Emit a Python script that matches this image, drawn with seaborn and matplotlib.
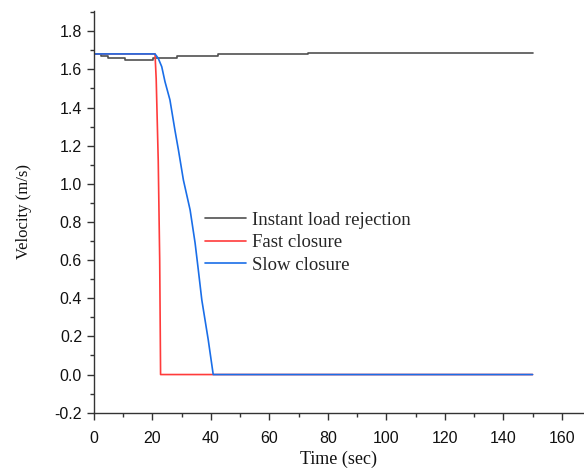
import matplotlib
matplotlib.use("Agg")
import matplotlib.pyplot as plt
from matplotlib.ticker import MultipleLocator, FormatStrFormatter
import seaborn as sns
import pandas as pd

# Instant load rejection (step levels)
t_instant = [0, 2.4, 4.8, 10.6, 20.2, 28.4, 42.4, 73.2, 150]
v_instant = [1.681, 1.672, 1.661, 1.649, 1.661, 1.670, 1.681, 1.688, 1.688]

# Fast closure
t_fast = [0, 20.9, 21.3, 22.0, 22.5, 22.8, 150]
v_fast = [1.681, 1.681, 1.55, 1.12, 0.60, 0.0, 0.0]

# Slow closure
t_slow = [0, 20.9, 22.0, 23.2, 24.3, 26.0, 27.7, 28.9, 30.6, 32.9, 34.6,
          35.7, 36.9, 39.1, 40.8, 150]
v_slow = [1.681, 1.681, 1.658, 1.614, 1.536, 1.44, 1.282, 1.178, 1.02, 0.863,
          0.69, 0.549, 0.391, 0.182, 0.0, 0.0]

labels = ["Instant load rejection", "Fast closure", "Slow closure"]
colors = ["#505050", "#ff3b3b", "#1a6ee8"]

sns.set_theme(style="ticks")
plt.rcParams["font.family"] = ["Liberation Sans", "DejaVu Sans"]

fig = plt.figure(figsize=(5.84, 4.73), dpi=100)
ax = fig.add_axes([0.1608, 0.1275, 0.8392, 0.8492])

df_i = pd.DataFrame({"t": t_instant, "v": v_instant})
df_f = pd.DataFrame({"t": t_fast, "v": v_fast})
df_s = pd.DataFrame({"t": t_slow, "v": v_slow})

sns.lineplot(data=df_i, x="t", y="v", ax=ax, color=colors[0], lw=1.2,
             drawstyle="steps-post", estimator=None, sort=False, label=labels[0])
sns.lineplot(data=df_f, x="t", y="v", ax=ax, color=colors[1], lw=1.2,
             estimator=None, sort=False, label=labels[1])
sns.lineplot(data=df_s, x="t", y="v", ax=ax, color=colors[2], lw=1.2,
             estimator=None, sort=False, label=labels[2])

ax.set_xlim(0, 167.6)
ax.set_ylim(-0.2, 1.906)
ax.xaxis.set_major_locator(MultipleLocator(20))
ax.xaxis.set_minor_locator(MultipleLocator(10))
ax.yaxis.set_major_locator(MultipleLocator(0.2))
ax.yaxis.set_minor_locator(MultipleLocator(0.1))
ax.yaxis.set_major_formatter(FormatStrFormatter("%.1f"))
ax.xaxis.set_major_formatter(FormatStrFormatter("%d"))

ax.tick_params(axis="both", which="major", direction="out", length=5, width=1,
               labelsize=11.5, color="#333333", labelcolor="#111111")
ax.tick_params(axis="x", which="major", pad=8.5)
ax.tick_params(axis="both", which="minor", direction="out", length=3, width=1,
               color="#333333")

for s in ["top", "right"]:
    ax.spines[s].set_visible(False)
for s in ["left", "bottom"]:
    ax.spines[s].set_color("#333333")
    ax.spines[s].set_linewidth(1.0)

ax.set_xlabel("Time (sec)", fontfamily="Liberation Serif", fontsize=13,
              color="#111111", labelpad=3)
ax.set_ylabel("Velocity (m/s)", fontfamily="Liberation Serif", fontsize=12,
              color="#111111", labelpad=16)

leg = ax.legend(loc="upper left", bbox_to_anchor=(0.2267, 0.500), frameon=False,
                prop={"family": "Liberation Serif", "size": 13.5},
                handlelength=2.2, handletextpad=0.3, labelspacing=0.28,
                borderpad=0, borderaxespad=0)

fig.savefig("out.png", dpi=100, facecolor="white")
